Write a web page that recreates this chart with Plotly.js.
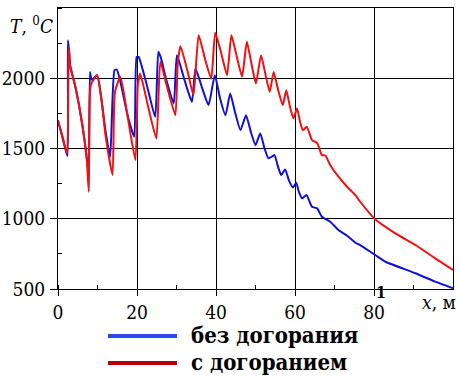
<!DOCTYPE html>
<html>
<head>
<meta charset="utf-8">
<script src="https://cdn.plot.ly/plotly-3.0.1.min.js"></script>
<style>html,body{margin:0;padding:0;background:#fff;}#chart{width:460px;height:378px;}</style>
</head>
<body>
<div id="chart"></div>
<script>
// Series 1: без догорания (blue)
const xBlue = [0,1.2,2.4,2.5,2.8,3.1,4.4,6.1,7.3,7.8,8.1,8.5,9.9,11.0,12.0,13.2,14.3,14.9,16.0,17.5,19.3,19.9,20.4,22.5,24.6,25.4,26.0,27.5,29.3,30.1,32.0,33.9,34.8,36.5,38.1,39.7,41.0,42.4,43.6,44.8,46.2,47.6,48.8,50.0,51.2,52.3,53.3,54.8,55.6,56.5,57.5,58.5,59.5,60.3,61.0,61.8,62.9,64.3,65.6,66.8,68.9,71.0,73.2,75.3,76.5,80.3,82.9,90.5,95.5,100];
const yBlue = [1700,1570,1446,2271,2200,2090,1939,1678,1430,1300,2045,1990,2022,1850,1631,1441,2057,2062,1950,1750,1583,2152,2152,1950,1725,2188,2150,1980,1821,2164,1990,1832,2069,1930,1809,2022,1860,1737,1892,1760,1631,1737,1620,1524,1607,1500,1430,1453,1380,1311,1351,1270,1223,1256,1190,1145,1169,1085,1074,1014,979,920,879,829,813,742,694,612,552,505];
// Series 2: с догоранием (red)
const xRed = [0,1.2,2.3,2.7,3.1,4.4,6.1,7.3,7.8,8.3,9.9,11.0,12.0,13.8,14.4,15.8,17.5,19.6,20.2,20.8,22.8,24.9,25.9,27.5,29.7,30.3,31.0,32.8,34.3,35.6,37.3,38.8,39.8,41.3,42.8,43.9,45.3,46.6,47.8,49.0,50.1,51.4,52.5,53.6,54.6,55.7,56.9,57.8,58.7,59.6,60.5,61.2,62.0,63.0,64.3,65.6,66.8,67.7,68.9,71.0,73.2,75.3,76.5,80.3,85.4,90.5,95.5,100];
const yRed = [1700,1580,1465,2223,2081,1939,1678,1417,1192,1951,2022,1850,1600,1311,1900,2010,1750,1417,1950,2034,1800,1571,2117,1950,1737,2100,2228,2050,1880,2306,2128,1998,2323,2180,2022,2306,2150,2010,2259,2100,1963,2164,2030,1903,2045,1920,1809,1915,1800,1714,1785,1700,1631,1654,1560,1540,1453,1450,1382,1299,1228,1168,1121,996,896,813,718,635];
const seriesNames = ["без догорания", "с догоранием"];
const xTicks = [0,20,40,60,80];
const yTicks = [500,1000,1500,2000];

const FONT = 'DejaVu Serif Condensed, DejaVu Serif';
const traces = [
  {x: xBlue, y: yBlue, type: 'scatter', mode: 'lines', name: seriesNames[0],
   line: {color: '#1010d8', width: 2, shape: 'spline', smoothing: 0.5}, showlegend: false},
  {x: xRed, y: yRed, type: 'scatter', mode: 'lines', name: seriesNames[1],
   line: {color: '#f01010', width: 2, shape: 'spline', smoothing: 0.5}, showlegend: false}
];
const L = 58, T = 8, W = 395, H = 281;
const px = v => (v - L) / W;
const py = v => (T + H - v) / H;
const layout = {
  width: 460, height: 378,
  margin: {l: L, r: 460 - L - W, t: T, b: 378 - T - H},
  paper_bgcolor: '#fff', plot_bgcolor: '#fff',
  font: {family: FONT, size: 19, color: '#000'},
  xaxis: {range: [0, 100], tickvals: xTicks, ticktext: xTicks.map(String),
    showgrid: true, gridcolor: '#000', gridwidth: 1, zeroline: false,
    showline: true, linecolor: '#000', linewidth: 1, mirror: true,
    ticks: 'outside', ticklen: 6, tickcolor: '#000',
    minor: {dtick: 10, tick0: 0, ticks: 'inside', ticklen: 4, tickcolor: '#000', showgrid: false},
    tickfont: {family: FONT, size: 19, color: '#000'}},
  yaxis: {range: [500, 2500], tickvals: yTicks, ticktext: yTicks.map(String),
    showgrid: true, gridcolor: '#000', gridwidth: 1, zeroline: false,
    showline: true, linecolor: '#000', linewidth: 1, mirror: true,
    ticks: 'outside', ticklen: 7, tickcolor: '#000', ticklabelstandoff: 1,
    minor: {dtick: 250, tick0: 500, ticks: 'inside', ticklen: 4, tickcolor: '#000', showgrid: false},
    tickfont: {family: FONT, size: 19, color: '#000'}},
  shapes: [
    {type: 'line', xref: 'paper', yref: 'paper', x0: px(108), x1: px(177), y0: py(336), y1: py(336),
     line: {color: '#2a48f0', width: 4}},
    {type: 'line', xref: 'paper', yref: 'paper', x0: px(108), x1: px(177), y0: py(363), y1: py(363),
     line: {color: '#b80000', width: 4}}
  ],
  annotations: [
    {xref: 'paper', yref: 'paper', x: px(8), y: py(25), xanchor: 'left', yanchor: 'middle',
     text: '<i>T</i>, <sup>0</sup><i>C</i>', showarrow: false, font: {family: FONT, size: 19}},
    {xref: 'paper', yref: 'paper', x: px(458), y: py(302), xanchor: 'right', yanchor: 'middle',
     text: '<i>x</i>, м', showarrow: false, font: {family: FONT, size: 19}},
    {xref: 'paper', yref: 'paper', x: px(381), y: py(292), xanchor: 'center', yanchor: 'middle',
     text: '<b>1</b>', showarrow: false, font: {family: FONT, size: 16}},
    {xref: 'paper', yref: 'paper', x: px(189), y: py(335), xanchor: 'left', yanchor: 'middle',
     text: '<b>' + seriesNames[0] + '</b>', showarrow: false, font: {family: FONT, size: 22}},
    {xref: 'paper', yref: 'paper', x: px(189), y: py(362), xanchor: 'left', yanchor: 'middle',
     text: '<b>' + seriesNames[1] + '</b>', showarrow: false, font: {family: FONT, size: 22}}
  ]
};
Plotly.newPlot('chart', traces, layout, {staticPlot: true, displayModeBar: false});
</script>
</body>
</html>
